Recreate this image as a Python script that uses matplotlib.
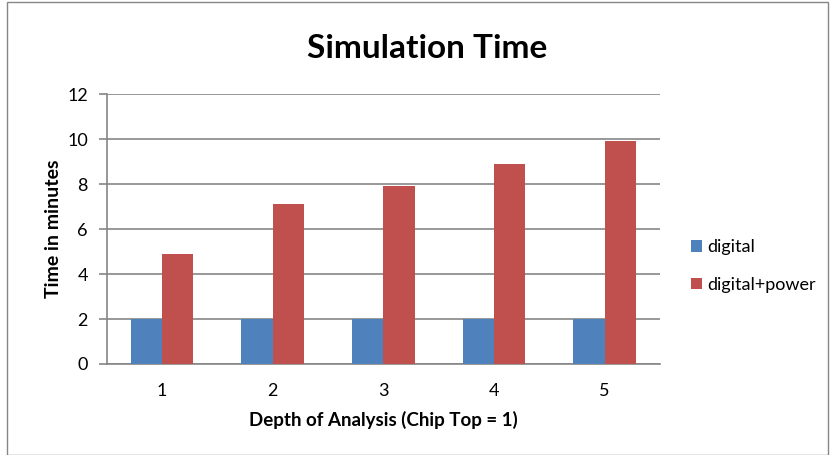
import numpy as np
import matplotlib.pyplot as plt
from matplotlib.patches import Rectangle

plt.rcParams['font.family'] = ['Lato', 'DejaVu Sans']

# simulation times (minutes) per depth of analysis
depth = ['1', '2', '3', '4', '5']
digital = [2, 2, 2, 2, 2]
digital_power = [4.9, 7.1, 7.9, 8.9, 9.9]

blue = '#4F81BD'
red = '#C0504D'
grid_gray = '#868686'

fig = plt.figure(figsize=(8.31, 4.55), dpi=100)
ax = fig.add_axes([0.1284, 0.2, 0.6658, 0.5934])

x = np.arange(len(depth))
w = 0.283
ax.bar(x - w/2, digital, w, color=blue, label='digital', zorder=3)
ax.bar(x + w/2, digital_power, w, color=red, label='digital+power', zorder=3)

ax.set_xlim(-0.5, len(depth) - 0.5)
ax.set_ylim(0, 12)
ax.set_yticks(range(0, 13, 2))
ax.set_xticks(x)
ax.set_xticklabels(depth)
ax.yaxis.grid(True, color=grid_gray, linewidth=1.2, zorder=0)
ax.set_axisbelow(True)

for side in ['top', 'right']:
    ax.spines[side].set_visible(False)
for side in ['left', 'bottom']:
    ax.spines[side].set_color(grid_gray)
    ax.spines[side].set_linewidth(1.2)
ax.tick_params(axis='y', length=5.5, width=1.2, color=grid_gray, labelsize=13, pad=8)
ax.tick_params(axis='x', length=0, labelsize=13, pad=14)

ax.set_xlabel('Depth of Analysis (Chip Top = 1)', fontsize=13.5, fontweight='bold', labelpad=8)
ax.set_ylabel('Time in minutes', fontsize=14, fontweight='bold', labelpad=4)
fig.text(0.514, 0.893, 'Simulation Time', fontsize=24, fontweight='bold',
         ha='center', va='center')

leg = fig.legend(loc='center left', bbox_to_anchor=(0.812, 0.415), frameon=False,
                 fontsize=13, handlelength=0.6, handleheight=0.6,
                 handletextpad=0.3, labelspacing=1.2)

# chart border
fig.patches.append(Rectangle((7/831, 0), 821/831, 453/455, transform=fig.transFigure,
                             fill=False, edgecolor=grid_gray, linewidth=1.0))

fig.savefig('out.png', dpi=100)
